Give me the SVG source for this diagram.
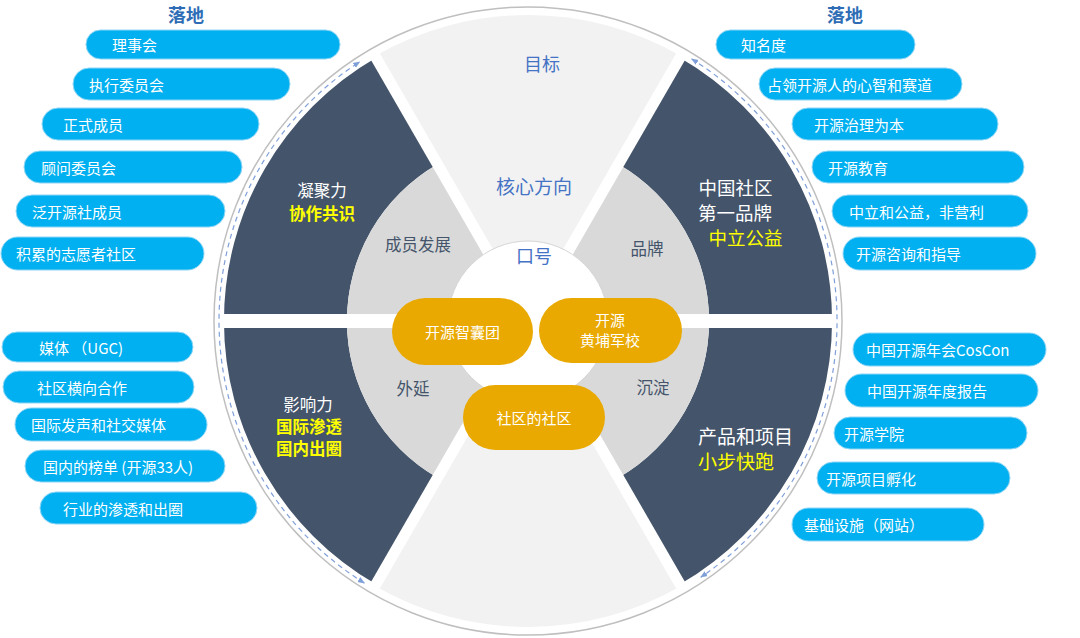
<svg xmlns="http://www.w3.org/2000/svg" width="1080" height="638" viewBox="0 0 1080 638">
<style>
text{font-family:"Noto Sans CJK SC","Noto Sans",sans-serif;}
.pill{fill:#00b0f0;stroke:#8fd6f5;stroke-width:1;}
.pt{fill:#ffffff;font-size:15px;dominant-baseline:central;}
.dark{fill:#44546a;}
.ring{fill:#d9d9d9;}
.light{fill:#f2f2f2;}
.gap{stroke:#ffffff;fill:none;}
.wt{fill:#ffffff;text-anchor:middle;dominant-baseline:central;}
.yt{fill:#ffff00;text-anchor:middle;dominant-baseline:central;}
.bt{fill:#4472c4;text-anchor:middle;dominant-baseline:central;}
.gt{fill:#44546a;font-size:16.5px;text-anchor:middle;dominant-baseline:central;}
.ttl{fill:#2e6db5;font-size:18px;font-weight:bold;text-anchor:middle;dominant-baseline:central;}
.yp{fill:#e9a900;}
.ypt{fill:#ffffff;font-size:15px;text-anchor:middle;dominant-baseline:central;}
.dash{fill:none;stroke:#7f9fd8;stroke-width:1.2;stroke-dasharray:5 4;marker-start:url(#arr);marker-end:url(#arr);}
</style>
<defs>
<marker id="arr" viewBox="0 0 10 10" refX="9" refY="5" markerWidth="6" markerHeight="6" orient="auto-start-reverse"><path d="M0,1 L10,5 L0,9 z" fill="#7f9fd8"/></marker>
</defs>
<rect width="1080" height="638" fill="#ffffff"/>

<g id="wheel">
<circle cx="528" cy="321" r="314" fill="none" stroke="#bfbfbf" stroke-width="1.5"/>
<path class="light" d="M528,321 L375,56 A306,306 0 0 1 681,56 Z"/>
<path class="light" d="M528,321 L681,586 A306,306 0 0 1 375,586 Z"/>
<path class="dark" d="M376,584.3 A304,304 0 0 1 376,57.7 L437.5,164.2 A181,181 0 0 0 437.5,477.8 Z"/>
<path class="dark" d="M680,57.7 A304,304 0 0 1 680,584.3 L618.5,477.8 A181,181 0 0 0 618.5,164.2 Z"/>
<path class="ring" d="M437.5,477.8 A181,181 0 0 1 437.5,164.2 L528,321 Z"/>
<path class="ring" d="M618.5,164.2 A181,181 0 0 1 618.5,477.8 L528,321 Z"/>
<line class="gap" stroke-width="11" x1="374" y1="54.3" x2="682" y2="587.7"/>
<line class="gap" stroke-width="11" x1="682" y1="54.3" x2="374" y2="587.7"/>
<line class="gap" stroke-width="14" x1="220" y1="321" x2="836" y2="321"/>
<circle cx="528" cy="321" r="80" fill="#ffffff" stroke="#d6d6d6" stroke-width="1"/>
</g>

<g id="connectors">
<path class="dash" d="M364.3,583 A309,309 0 0 1 359.7,61.8"/>
<path class="dash" d="M691.7,58.9 A309,309 0 0 1 700.8,577.2"/>
</g>

<g id="seg-top">
<text class="bt" x="542" y="63" font-size="18">目标</text>
<text class="bt" x="534" y="185" font-size="19">核心方向</text>
<text class="bt" x="534" y="255" font-size="18">口号</text>
</g>
<g id="seg-upper-left">
<text class="wt" x="322" y="190" font-size="16.5">凝聚力</text>
<text class="yt" x="322" y="213" font-size="16.5" font-weight="bold">协作共识</text>
</g>
<g id="seg-upper-right">
<text class="wt" x="735.5" y="187" font-size="18.5">中国社区</text>
<text class="wt" x="735" y="212" font-size="18.5">第一品牌</text>
<text class="yt" x="745.5" y="237" font-size="18.5">中立公益</text>
</g>
<g id="seg-lower-left">
<text class="wt" x="308" y="404" font-size="16.5">影响力</text>
<text class="yt" x="309" y="426" font-size="16.5" font-weight="bold">国际渗透</text>
<text class="yt" x="309" y="448" font-size="16.5" font-weight="bold">国内出圈</text>
</g>
<g id="seg-lower-right">
<text class="wt" x="698" y="435" font-size="19" style="text-anchor:start">产品和项目</text>
<text class="yt" x="698" y="460" font-size="19" style="text-anchor:start">小步快跑</text>
</g>
<g id="ring-labels">
<text class="gt" x="418" y="244">成员发展</text>
<text class="gt" x="647" y="248">品牌</text>
<text class="gt" x="413" y="388">外延</text>
<text class="gt" x="653" y="387">沉淀</text>
</g>

<g id="core-zhinang">
<rect class="yp" x="392" y="298" width="141" height="67" rx="33.5"/>
<text class="ypt" x="462.5" y="331">开源智囊团</text>
</g>
<g id="core-huangpu">
<rect class="yp" x="539" y="298" width="143" height="65" rx="32.5"/>
<text class="ypt" x="610" y="319">开源</text>
<text class="ypt" x="610" y="339">黄埔军校</text>
</g>
<g id="core-shequ">
<rect class="yp" x="463" y="385" width="142" height="65" rx="32.5"/>
<text class="ypt" x="534" y="417">社区的社区</text>
</g>

<g id="title-left"><text class="ttl" x="186" y="14">落地</text></g>
<g id="title-right"><text class="ttl" x="845" y="14">落地</text></g>

<g id="left-pills">
<g id="l1"><rect class="pill" x="86" y="30" width="254" height="29" rx="14.5"/><text class="pt" x="112" y="44.5">理事会</text></g>
<g id="l2"><rect class="pill" x="73" y="68" width="217" height="32" rx="16"/><text class="pt" x="89" y="84">执行委员会</text></g>
<g id="l3"><rect class="pill" x="42" y="108" width="217" height="32" rx="16"/><text class="pt" x="63" y="124">正式成员</text></g>
<g id="l4"><rect class="pill" x="24" y="151" width="218" height="32" rx="16"/><text class="pt" x="41" y="167">顾问委员会</text></g>
<g id="l5"><rect class="pill" x="16" y="195" width="209" height="32" rx="16"/><text class="pt" x="32" y="211">泛开源社成员</text></g>
<g id="l6"><rect class="pill" x="1" y="237" width="203" height="33" rx="16.5"/><text class="pt" x="16" y="253.5">积累的志愿者社区</text></g>
<g id="l7"><rect class="pill" x="2" y="332" width="191" height="30" rx="15"/><text class="pt" x="39" y="347">媒体 （UGC)</text></g>
<g id="l8"><rect class="pill" x="3" y="371" width="191" height="32" rx="16"/><text class="pt" x="37" y="387">社区横向合作</text></g>
<g id="l9"><rect class="pill" x="15" y="408" width="192" height="33" rx="16.5"/><text class="pt" x="31" y="424.5">国际发声和社交媒体</text></g>
<g id="l10"><rect class="pill" x="25" y="450" width="200" height="32" rx="16"/><text class="pt" x="43" y="466">国内的榜单 (开源33人)</text></g>
<g id="l11"><rect class="pill" x="40" y="492" width="217" height="32" rx="16"/><text class="pt" x="63" y="508">行业的渗透和出圈</text></g>
</g>

<g id="right-pills">
<g id="r1"><rect class="pill" x="716" y="30" width="199" height="29" rx="14.5"/><text class="pt" x="741" y="44.5">知名度</text></g>
<g id="r2"><rect class="pill" x="759" y="68" width="203" height="32" rx="16"/><text class="pt" x="767" y="84">占领开源人的心智和赛道</text></g>
<g id="r3"><rect class="pill" x="792" y="108" width="206" height="32" rx="16"/><text class="pt" x="814" y="124">开源治理为本</text></g>
<g id="r4"><rect class="pill" x="812" y="151" width="212" height="32" rx="16"/><text class="pt" x="828" y="167">开源教育</text></g>
<g id="r5"><rect class="pill" x="832" y="195" width="196" height="32" rx="16"/><text class="pt" x="849" y="211">中立和公益，非营利</text></g>
<g id="r6"><rect class="pill" x="843" y="237" width="193" height="33" rx="16.5"/><text class="pt" x="856" y="253.5">开源咨询和指导</text></g>
<g id="r7"><rect class="pill" x="853" y="333" width="193" height="33" rx="16.5"/><text class="pt" x="866" y="349.5">中国开源年会CosCon</text></g>
<g id="r8"><rect class="pill" x="845" y="374" width="193" height="33" rx="16.5"/><text class="pt" x="867" y="390.5">中国开源年度报告</text></g>
<g id="r9"><rect class="pill" x="834" y="417" width="193" height="32" rx="16"/><text class="pt" x="844" y="433">开源学院</text></g>
<g id="r10"><rect class="pill" x="817" y="462" width="193" height="32" rx="16"/><text class="pt" x="826" y="478">开源项目孵化</text></g>
<g id="r11"><rect class="pill" x="792" y="508" width="192" height="33" rx="16.5"/><text class="pt" x="804" y="524.5">基础设施（网站）</text></g>
</g>
</svg>
